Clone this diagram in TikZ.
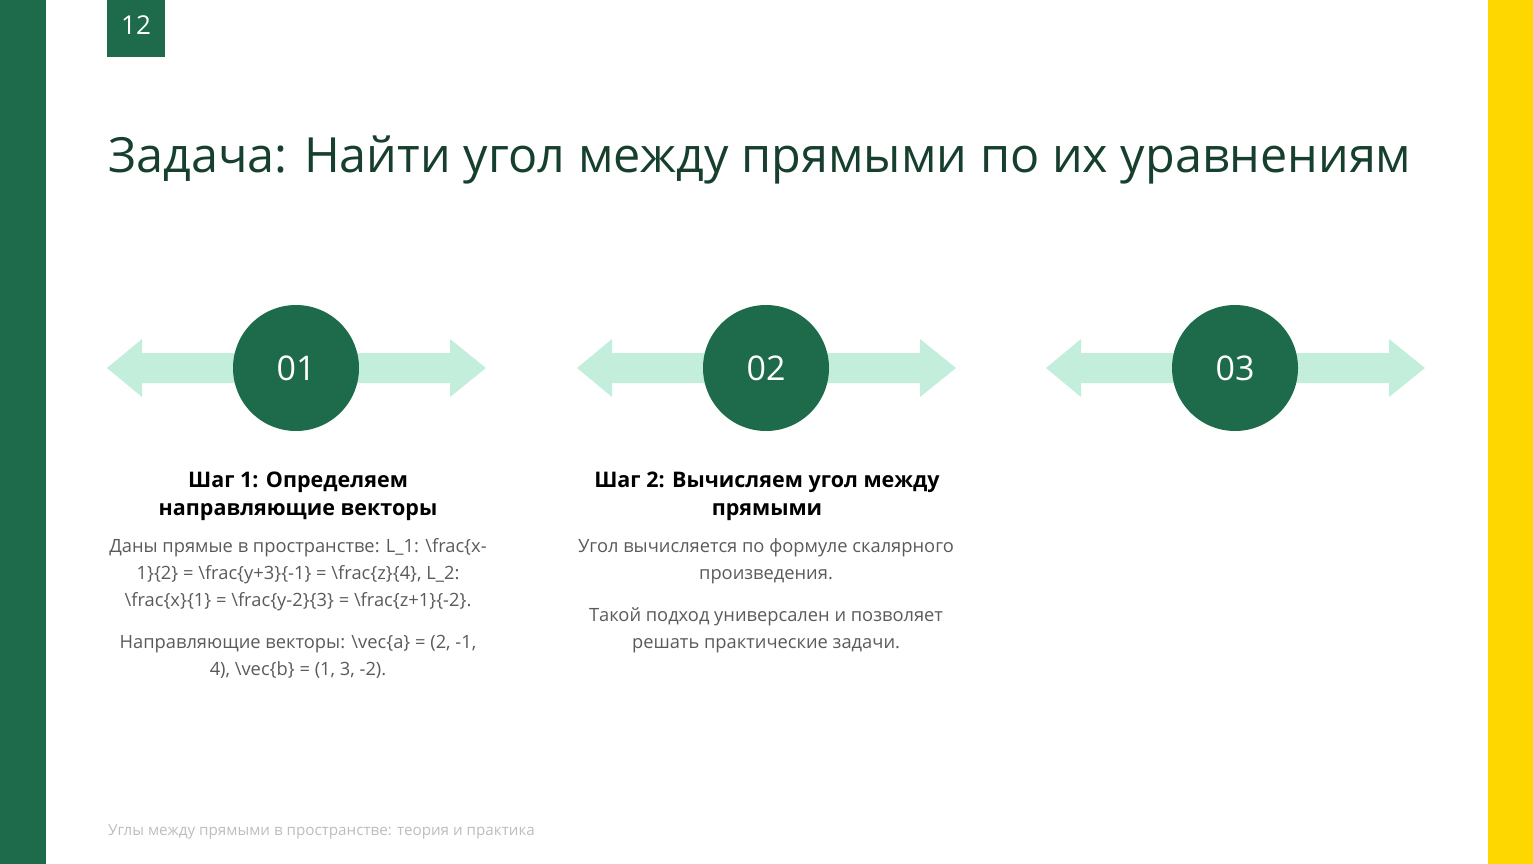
\documentclass[tikz,border=0pt]{standalone}
\usepackage{fontspec}
\setmainfont{Open Sans}
\usetikzlibrary{positioning}
\definecolor{darkgreen}{HTML}{1D6B4A}
\definecolor{mint}{HTML}{C2EEDB}
\definecolor{gold}{HTML}{FFD700}
\definecolor{titlegreen}{HTML}{173F2E}
\definecolor{bodygray}{HTML}{5A5A5A}
\definecolor{footgray}{HTML}{BDBDBD}

\begin{document}
\begin{tikzpicture}[x=1pt,y=-1pt,
  stepnum/.style={circle,fill=darkgreen,minimum size=126pt,inner sep=0pt,text=white,font=\fontsize{34}{34}\selectfont},
  stephead/.style={align=center,inner sep=0pt,anchor=base,font=\fontsize{21.5}{28}\selectfont\bfseries},
  stepbody/.style={align=center,inner sep=0pt,anchor=base,text=bodygray,font=\fontsize{18.3}{27}\selectfont}]
\useasboundingbox (0,0) rectangle (1533,864);
% side bars
\fill[darkgreen] (0,0) rectangle (46,864);
\fill[gold] (1488,0) rectangle (1533,864);
% page number
\fill[darkgreen] (107,0) rectangle (165,57);
\node[text=white,font=\fontsize{26}{26}\selectfont] (pagenum) at (136,25) {12};
% title
\node[anchor=base west,inner sep=0pt,text=titlegreen,font=\fontsize{48.5}{48.5}\selectfont] (title) at (108,172)
  {Задача: Найти угол между прямыми по их уравнениям};
% arrows and circles
\foreach \cx/\num in {296/01,766/02,1235/03}{
  \fill[mint] (\cx-189,368) -- (\cx-154,339) -- (\cx-154,353) -- (\cx+154,353) -- (\cx+154,339)
    -- (\cx+190,368) -- (\cx+154,397) -- (\cx+154,383) -- (\cx-154,383) -- (\cx-154,397) -- cycle;
  \node[stepnum] (step\num) at (\cx,368) {\num};
}
% step 1 (anchors sit on the last line)
\node[stephead] (head1) at (298,515) {Шаг 1: Определяем\\направляющие векторы};
\node[stepbody] (body1a) at (298,606) {Даны прямые в пространстве: L\_1: \textbackslash frac\{x-\\
1\}\{2\} = \textbackslash frac\{y+3\}\{-1\} = \textbackslash frac\{z\}\{4\}, L\_2:\\
\textbackslash frac\{x\}\{1\} = \textbackslash frac\{y-2\}\{3\} = \textbackslash frac\{z+1\}\{-2\}.};
\node[stepbody] (body1b) at (298,675) {Направляющие векторы: \textbackslash vec\{a\} = (2, -1,\\
4), \textbackslash vec\{b\} = (1, 3, -2).};
% step 2
\node[stephead] (head2) at (767,515) {Шаг 2: Вычисляем угол между\\прямыми};
\node[stepbody] (body2a) at (766,579) {Угол вычисляется по формуле скалярного\\произведения.};
\node[stepbody] (body2b) at (766,648) {Такой подход универсален и позволяет\\решать практические задачи.};
% footer
\node[anchor=base west,inner sep=0pt,text=footgray,font=\fontsize{15.2}{15.2}\selectfont] (footer) at (108,835)
  {Углы между прямыми в пространстве: теория и практика};
\end{tikzpicture}
\end{document}
